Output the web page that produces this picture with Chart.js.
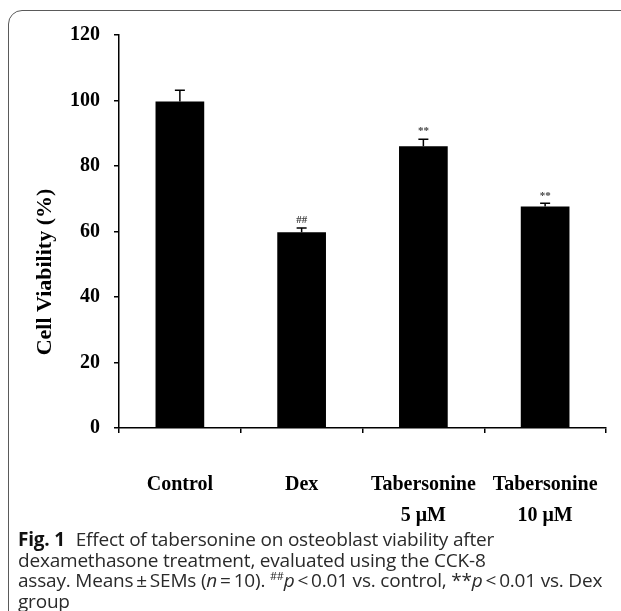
<!DOCTYPE html>
<html lang="en">
  <head>
    <meta charset="UTF-8" />
    <title>Cell viability</title>
    <style>
      html, body {
        margin: 0;
        padding: 0;
        background: #fff;
        overflow: hidden;
      }
      .frame {
        position: absolute;
        left: 8px;
        top: 10px;
        width: 800px;
        height: 800px;
        border: 1.5px solid #5a5a5a;
        border-radius: 14px;
      }
      .chart-box {
        position: absolute;
        left: 0;
        top: 0;
      }
      .caption {
        position: absolute;
        left: 18px;
        top: 529px;
        width: 600px;
        font-family: "Open Sans", sans-serif;
        font-size: 19px;
        line-height: 20.5px;
        letter-spacing: -0.2px;
        color: #2a2a2a;
        white-space: nowrap;
      }
      .caption b {
        font-weight: 700;
        color: #111;
        margin-right: 6px;
      }
      .caption sup {
        font-size: 11px;
        line-height: 0;
      }
    </style>
  </head>
  <body>
    <div class="frame"></div>
    <div class="chart-box">
      <canvas id="myChart" width="621" height="530"></canvas>
    </div>
    <div class="caption">
      <b>Fig. 1</b> Effect of tabersonine on osteoblast viability after<br />
      dexamethasone treatment, evaluated using the CCK-8<br />
      assay. Means&#8201;±&#8201;SEMs (<i>n</i>&#8201;=&#8201;10). <sup>##</sup><i>p</i>&#8201;&lt;&#8201;0.01 vs. control, **<i>p</i>&#8201;&lt;&#8201;0.01 vs. Dex<br />
      group
    </div>

    <script src="https://cdn.jsdelivr.net/npm/chart.js"></script>

    <script>
      const categories = [
        ["Control"],
        ["Dex"],
        ["Tabersonine", "5 μM"],
        ["Tabersonine", "10 μM"],
      ];
      const viability = [99.7, 59.8, 86.0, 67.6];
      const sem = [3.4, 1.3, 2.2, 1.0];
      const marks = ["", "##", "**", "**"];
      const yTicks = [0, 20, 40, 60, 80, 100, 120];

      const serif = "'Liberation Serif', 'Times New Roman', serif";

      // error bars, significance marks and the y title
      const extras = {
        id: "extras",
        afterDatasetsDraw(chart) {
          const c = chart.ctx;
          const x = chart.scales.x;
          const y = chart.scales.y;
          c.save();
          c.strokeStyle = "#000";
          c.lineWidth = 1.5;
          viability.forEach((v, i) => {
            const cx = x.getPixelForValue(i);
            const top = y.getPixelForValue(v);
            const hi = y.getPixelForValue(v + sem[i]);
            c.beginPath();
            c.moveTo(cx, top);
            c.lineTo(cx, hi);
            c.moveTo(cx - 5, hi);
            c.lineTo(cx + 5, hi);
            c.stroke();
            if (marks[i]) {
              c.fillStyle = "#444";
              c.font = "bold 11px " + serif;
              c.textAlign = "center";
              c.textBaseline = "bottom";
              c.fillText(marks[i], cx, hi - 2);
            }
          });
          c.fillStyle = "#000";
          c.font = "bold 22px " + serif;
          c.translate(45, 272);
          c.rotate(-Math.PI / 2);
          c.textAlign = "center";
          c.textBaseline = "middle";
          c.fillText("Cell Viability (%)", 0, 0);
          c.restore();
        },
      };

      new Chart(document.getElementById("myChart"), {
        type: "bar",
        data: {
          labels: categories,
          datasets: [
            {
              data: viability,
              backgroundColor: "#000",
              borderWidth: 0,
              barPercentage: 0.4,
              categoryPercentage: 1,
            },
          ],
        },
        options: {
          responsive: false,
          animation: false,
          events: [],
          layout: { padding: { top: 35, right: 15, left: 0, bottom: 0 } },
          plugins: {
            legend: { display: false },
            tooltip: { enabled: false },
          },
          scales: {
            x: {
              offset: true,
              grid: {
                offset: true,
                drawOnChartArea: false,
                tickLength: 5,
                color: "#000",
                lineWidth: 1.5,
              },
              border: { color: "#000", width: 1.5 },
              ticks: {
                color: "#000",
                padding: 36,
                font: { family: serif, size: 20, weight: "bold", lineHeight: 1.55 },
              },
              afterFit(scale) {
                // keep the plot area fixed, labels may overhang
                scale.height = 102;
                scale.paddingLeft = 0;
                scale.paddingRight = 0;
              },
            },
            y: {
              min: 0,
              max: 120,
              afterBuildTicks(scale) {
                scale.ticks = yTicks.map((v) => ({ value: v }));
              },
              grid: {
                drawOnChartArea: false,
                tickLength: 5,
                color: "#000",
                lineWidth: 1.5,
              },
              border: { color: "#000", width: 1.5 },
              ticks: {
                color: "#000",
                padding: 14,
                font: { family: serif, size: 20, weight: "bold" },
              },
              afterFit(scale) {
                scale.width = 119;
                scale.paddingTop = 0;
                scale.paddingBottom = 0;
              },
            },
          },
        },
        plugins: [extras],
      });
    </script>
  </body>
</html>
